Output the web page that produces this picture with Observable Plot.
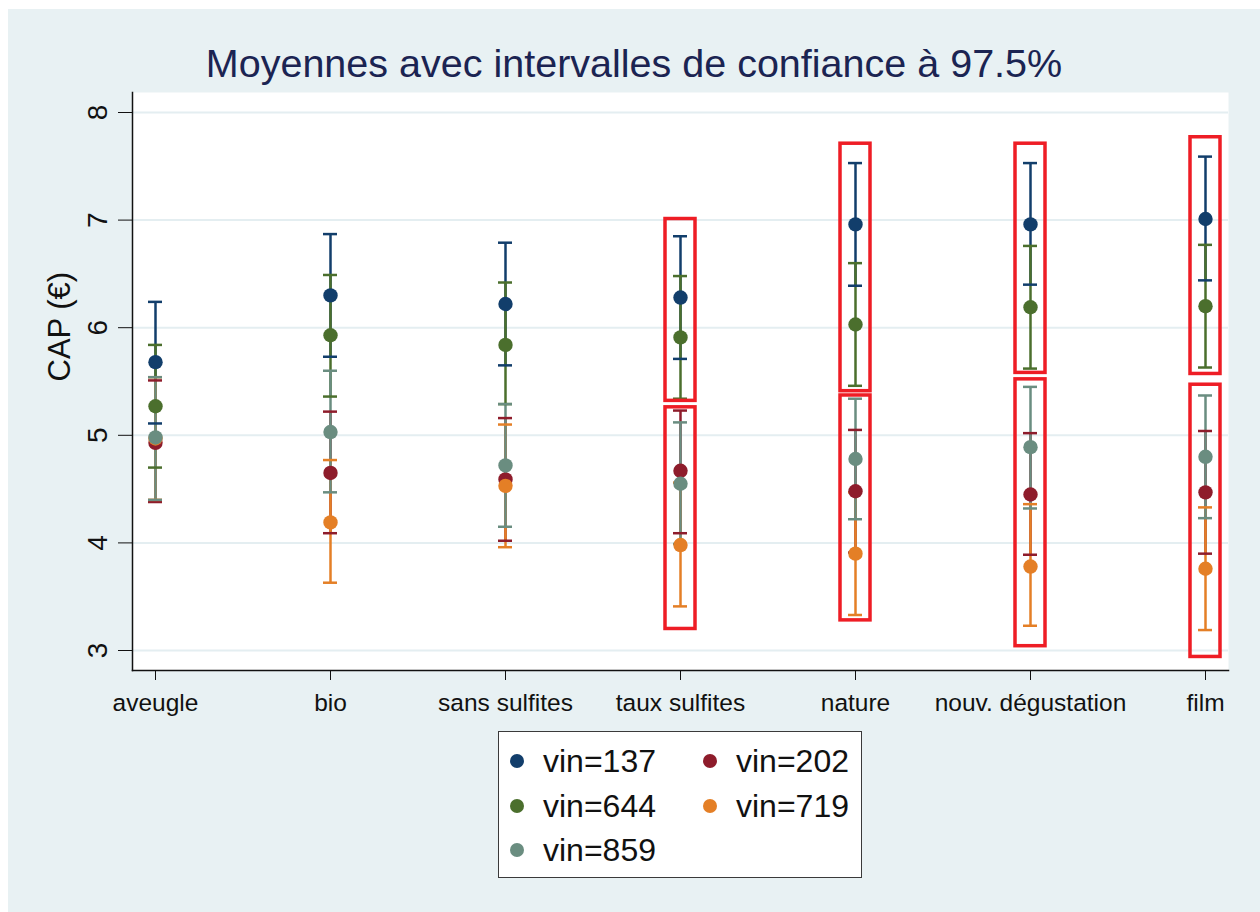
<!DOCTYPE html>
<html>
<head>
<meta charset="utf-8">
<script src="https://cdn.jsdelivr.net/npm/d3@7"></script>
<script src="https://cdn.jsdelivr.net/npm/@observablehq/plot@0.6"></script>
<style>
  html, body { margin: 0; padding: 0; background: #ffffff; }
  body { width: 1260px; height: 912px; position: relative; overflow: hidden; font-family: "Liberation Sans", Arial, sans-serif; }
  #bg { position: absolute; left: 8px; top: 9px; width: 1252px; height: 903px; background: #e8f1f3; }
  #title { position: absolute; left: 4px; width: 1260px; top: 41px; text-align: center; font-size: 39.5px; color: #1b2452; white-space: nowrap; }
  #chart { position: absolute; left: 0; top: 0; }
  #legend { position: absolute; left: 498px; top: 731px; width: 362px; height: 145px; background: #fff; border: 1.5px solid #3a3a3a; }
  .item { position: absolute; font-size: 32px; color: #111; line-height: 1; }
  .dot { position: absolute; width: 14px; height: 14px; border-radius: 50%; }
</style>
</head>
<body>
<div id="bg"></div>
<div id="title">Moyennes avec intervalles de confiance à 97.5%</div>
<div id="chart"></div>
<div id="legend"></div>
<script>
// ---- data ----
const categories = ["aveugle", "bio", "sans sulfites", "taux sulfites", "nature", "nouv. dégustation", "film"];
const vins = ["vin=137", "vin=202", "vin=644", "vin=719", "vin=859"];
const colors = ["#123e6b", "#8e1c2b", "#4b6f2d", "#e47f26", "#6a8d80"];

const mean137 = [5.68, 6.30, 6.22, 6.28, 6.96, 6.96, 7.01];
const lo137   = [5.11, 5.73, 5.65, 5.71, 6.39, 6.40, 6.44];
const hi137   = [6.24, 6.87, 6.79, 6.85, 7.53, 7.53, 7.59];

const mean202 = [4.93, 4.65, 4.59, 4.67, 4.48, 4.45, 4.47];
const lo202   = [4.38, 4.09, 4.02, 4.09, 3.91, 3.89, 3.90];
const hi202   = [5.51, 5.22, 5.16, 5.23, 5.05, 5.02, 5.04];

const mean644 = [5.27, 5.93, 5.84, 5.91, 6.03, 6.19, 6.20];
const lo644   = [4.70, 5.36, 5.29, 5.34, 5.46, 5.62, 5.63];
const hi644   = [5.84, 6.49, 6.42, 6.48, 6.60, 6.76, 6.77];

const mean719 = [4.97, 4.19, 4.53, 3.98, 3.90, 3.78, 3.76];
const lo719   = [4.40, 3.63, 3.96, 3.41, 3.33, 3.23, 3.19];
const hi719   = [5.54, 4.77, 5.10, 4.56, 4.47, 4.36, 4.33];

const mean859 = [4.98, 5.03, 4.72, 4.55, 4.78, 4.89, 4.80];
const lo859   = [4.40, 4.47, 4.15, 3.99, 4.22, 4.32, 4.23];
const hi859   = [5.54, 5.60, 5.29, 5.12, 5.34, 5.45, 5.37];

const yTicks = [3, 4, 5, 6, 7, 8];

// highlighted groups (red boxes)
const boxCats = ["taux sulfites", "taux sulfites", "nature", "nature", "nouv. dégustation", "nouv. dégustation", "film", "film"];
const boxLo   = [5.32, 3.20, 5.41, 3.28, 5.58, 3.04, 5.57, 2.94];
const boxHi   = [7.01, 5.26, 7.71, 5.37, 7.71, 5.52, 7.77, 5.47];

// ---- build tables ----
const series = [
  [mean137, lo137, hi137],
  [mean202, lo202, hi202],
  [mean644, lo644, hi644],
  [mean719, lo719, hi719],
  [mean859, lo859, hi859]
];
const rows = [];
series.forEach(([m, lo, hi], s) => {
  categories.forEach((c, i) => rows.push({vin: vins[s], cat: c, mean: m[i], lo: lo[i], hi: hi[i]}));
});
const boxes = boxCats.map((c, i) => ({cat: c, y1: boxLo[i], y2: boxHi[i]}));

const chart = Plot.plot({
  width: 1260,
  height: 740,
  marginTop: 92,
  marginBottom: 70,
  marginLeft: 132,
  marginRight: 32,
  style: {background: "transparent", fontFamily: "Liberation Sans, Arial, sans-serif", color: "#111"},
  x: {type: "band", domain: categories, range: [137, 1223], paddingInner: 0.8295, paddingOuter: 0, align: 0.5},
  y: {domain: [3, 8], insetTop: 20, insetBottom: 20},
  color: {domain: vins, range: colors},
  marks: [
    Plot.frame({fill: "white", stroke: null}),
    Plot.gridY(yTicks, {stroke: "#e4eef1", strokeOpacity: 1, strokeWidth: 2}),
    Plot.frame({anchor: "bottom", stroke: "#111", strokeWidth: 1.5}),
    Plot.frame({anchor: "left", stroke: "#111", strokeWidth: 1.5}),
    Plot.axisX({tickSize: 10, tickPadding: 13, fontSize: 24.5, label: null, stroke: "#111"}),
    Plot.axisY({ticks: yTicks, tickFormat: d3.format("d"), tickSize: 14, tickPadding: 12, tickRotate: -90, fontSize: 28, label: null, stroke: "#111"}),
    Plot.text(["CAP (€)"], {frameAnchor: "left", dx: -72, rotate: -90, fontSize: 31, fill: "#111", text: d => d}),
    Plot.ruleX(rows, {x: "cat", y1: "lo", y2: "hi", stroke: "vin", strokeWidth: 2.5}),
    Plot.tickY(rows, {x: "cat", y: "lo", stroke: "vin", strokeWidth: 2.5, insetLeft: 8, insetRight: 8}),
    Plot.tickY(rows, {x: "cat", y: "hi", stroke: "vin", strokeWidth: 2.5, insetLeft: 8, insetRight: 8}),
    Plot.dot(rows, {x: "cat", y: "mean", fill: "vin", r: 7.2}),
    Plot.barY(boxes, {x: "cat", y1: "y1", y2: "y2", fill: "none", stroke: "#ee1d25", strokeWidth: 3.5})
  ]
});
document.getElementById("chart").appendChild(chart);

// ---- legend ----
const legend = document.getElementById("legend");
const legendPos = [[0, 0], [1, 0], [0, 1], [1, 1], [0, 2]]; // column,row for each vin in order
vins.forEach((v, i) => {
  const [c, r] = legendPos[i];
  const dot = document.createElement("div");
  dot.className = "dot";
  dot.style.background = colors[i];
  dot.style.left = (11 + c * 193) + "px";
  dot.style.top = (22 + r * 44.5) + "px";
  legend.appendChild(dot);
  const t = document.createElement("div");
  t.className = "item";
  t.textContent = v;
  t.style.left = (44 + c * 193) + "px";
  t.style.top = (13 + r * 44.5) + "px";
  legend.appendChild(t);
});
</script>
</body>
</html>
